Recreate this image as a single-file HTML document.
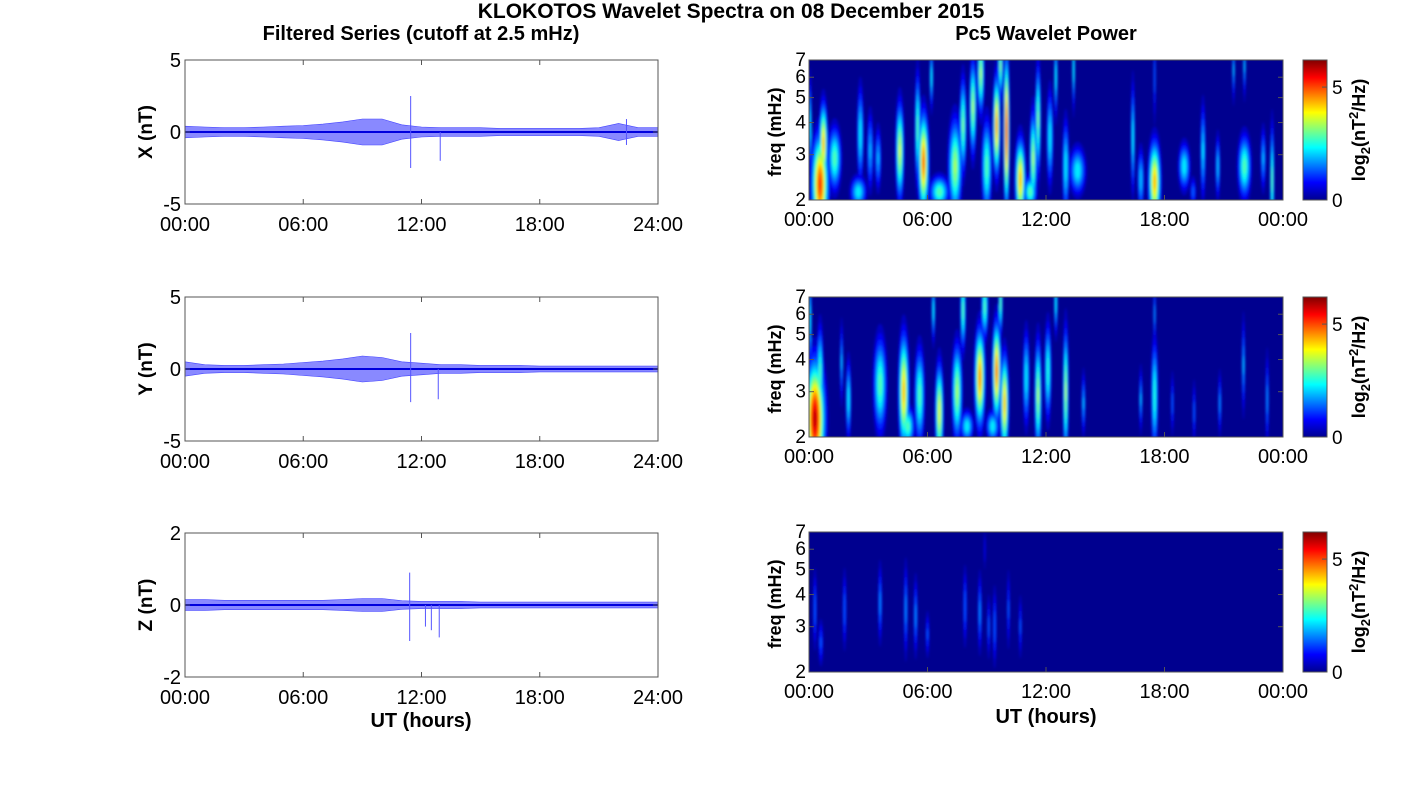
<!DOCTYPE html>
<html><head><meta charset="utf-8">
<style>
body{margin:0;background:#fff;}
svg{display:block;font-family:"Liberation Sans",sans-serif;}
</style></head>
<body>
<svg id="fig" width="1418" height="788" viewBox="0 0 1418 788" xmlns="http://www.w3.org/2000/svg">
<defs>
<linearGradient id="jetgrad" x1="0" y1="1" x2="0" y2="0">
<stop offset="0" stop-color="#00008f"/><stop offset="0.125" stop-color="#0000ff"/>
<stop offset="0.375" stop-color="#00ffff"/><stop offset="0.625" stop-color="#ffff00"/>
<stop offset="0.875" stop-color="#ff0000"/><stop offset="1" stop-color="#800000"/>
</linearGradient>
<filter id="soft" x="-5%" y="-5%" width="110%" height="110%"><feGaussianBlur stdDeviation="1.2"/></filter>
<clipPath id="c0"><rect x="809" y="60" width="474" height="140"/></clipPath>
<clipPath id="c1"><rect x="809" y="297" width="474" height="140"/></clipPath>
<clipPath id="c2"><rect x="809" y="532" width="474" height="140"/></clipPath>
</defs>
<text x="731" y="18" font-size="21" font-weight="bold" text-anchor="middle">KLOKOTOS Wavelet Spectra on 08 December 2015</text>
<text x="421" y="40" font-size="20" font-weight="bold" text-anchor="middle">Filtered Series (cutoff at 2.5 mHz)</text>
<text x="1046" y="40" font-size="20" font-weight="bold" text-anchor="middle">Pc5 Wavelet Power</text>
</svg>
<script>
// ---- data ----
const hours = [0,1,2,3,4,5,6,7,8,9,10,11,12,13,14,15,16,17,18,19,20,21,22,23,24];
const ampX = [0.4,0.35,0.3,0.3,0.35,0.4,0.45,0.55,0.7,0.9,0.9,0.5,0.35,0.3,0.3,0.3,0.25,0.25,0.25,0.25,0.25,0.3,0.6,0.3,0.3];
const ampY = [0.5,0.3,0.25,0.25,0.3,0.35,0.45,0.55,0.7,0.9,0.8,0.5,0.4,0.3,0.3,0.25,0.25,0.25,0.2,0.2,0.2,0.2,0.2,0.2,0.2];
const ampZ = [0.15,0.15,0.13,0.13,0.13,0.13,0.13,0.13,0.15,0.18,0.18,0.12,0.1,0.1,0.1,0.08,0.08,0.08,0.08,0.08,0.08,0.08,0.08,0.08,0.08];
const spikesX = [[11.45,2.5,-2.5],[12.95,0,-2.0],[22.4,0.9,-0.9]];
const spikesY = [[11.45,2.5,-2.3],[12.85,0,-2.1]];
const spikesZ = [[11.4,0.9,-1.0],[12.9,0,-0.9],[12.2,0,-0.6],[12.5,0,-0.7]];
const timeTicks = ["00:00","06:00","12:00","18:00","24:00"];
const specTicks = ["00:00","06:00","12:00","18:00","00:00"];
const freqTicks = [2,3,4,5,6,7];
// blobs: [hour, freq mHz, peak log2 power, half-width hours, half-height log-frac]
const blobsX = [[0.56,2.3,5.3,0.25,0.3],[0.73,3.3,4.5,0.12,0.25],[1.3,2.9,3,0.2,0.2],[0.05,3.9,2.5,0.05,0.3],[2.6,3.6,2.5,0.1,0.3],[2.5,2.15,2.5,0.25,0.1],[3.1,3.1,2,0.1,0.25],[3.5,2.9,2,0.1,0.2],[4.6,3.1,3.8,0.12,0.3],[5.8,2.8,5,0.15,0.3],[5.5,3.8,3,0.08,0.35],[6.2,6,2.5,0.05,0.2],[6.6,2.15,3,0.3,0.1],[7.4,2.7,3.5,0.2,0.3],[7.8,3.9,3.2,0.1,0.3],[8.3,4.6,3.5,0.1,0.3],[8.7,6.2,3.5,0.1,0.25],[9.0,2.7,3,0.15,0.3],[9.5,3.9,4.8,0.1,0.3],[10.0,3.7,5.6,0.08,0.45],[9.7,6.6,3.2,0.07,0.2],[10.7,2.4,4.5,0.15,0.25],[11.35,2.9,3.5,0.1,0.3],[11.6,4.1,3.2,0.08,0.35],[11.2,2.15,3,0.2,0.1],[12.2,3.5,2.5,0.1,0.3],[12.5,6,2.5,0.05,0.25],[13.0,2.7,2.5,0.1,0.3],[13.6,2.6,2.5,0.25,0.15],[13.4,6.4,2.5,0.04,0.25],[16.4,3.5,2.5,0.06,0.35],[17.5,2.35,4.5,0.18,0.25],[16.8,2.4,2.2,0.1,0.2],[17.5,6,1.5,0.04,0.3],[19.0,2.7,2.5,0.18,0.15],[19.95,3.1,2.3,0.08,0.3],[20.7,2.7,2.2,0.07,0.2],[22.05,2.7,3,0.2,0.2],[21.5,6.4,2,0.04,0.2],[23.0,2.9,2,0.08,0.2],[23.45,2.4,3,0.06,0.35],[19.45,2.15,1.5,0.1,0.1],[22.05,6.6,2,0.04,0.2]];
const blobsY = [[0.3,2.35,6,0.3,0.35],[0.56,3.5,3,0.1,0.3],[0.05,5.7,2.5,0.05,0.3],[2.0,2.8,2.5,0.08,0.25],[3.6,3.2,3,0.2,0.3],[4.8,3.0,4.5,0.15,0.35],[5.0,2.2,3,0.2,0.12],[5.6,2.9,3,0.15,0.3],[6.6,2.5,4,0.12,0.3],[6.3,6.2,2.5,0.05,0.2],[7.5,3.0,3.5,0.15,0.3],[7.8,6.2,3,0.08,0.25],[8.65,3.4,4.8,0.15,0.3],[8.9,6.4,3,0.1,0.2],[9.5,3.6,5,0.12,0.3],[9.9,2.7,4.5,0.12,0.3],[9.7,6.6,3,0.06,0.2],[11.0,3.4,2.5,0.1,0.3],[11.6,2.9,3.5,0.1,0.35],[12.1,3.6,2.8,0.1,0.3],[12.5,6.6,2.5,0.05,0.2],[13.0,3,3.5,0.08,0.4],[13.9,2.7,2,0.06,0.2],[16.8,2.8,2,0.05,0.2],[17.5,2.9,2.8,0.1,0.35],[17.5,6,1.8,0.04,0.2],[18.4,2.7,1.5,0.05,0.2],[19.5,2.5,1.5,0.05,0.2],[20.8,2.7,1.8,0.05,0.2],[22.0,3.8,2,0.05,0.3],[23.2,2.8,1.8,0.05,0.3],[1.65,3.9,2,0.05,0.25],[8.0,2.2,2.5,0.2,0.1],[9.3,2.2,2.5,0.2,0.1]];
const blobsZ = [[0.3,3.5,1.6,0.06,0.25],[0.6,2.6,1.4,0.08,0.15],[1.8,3.5,1.6,0.06,0.25],[3.6,3.7,1.8,0.06,0.25],[4.9,3.5,1.8,0.06,0.3],[5.4,3.3,1.8,0.06,0.25],[6.0,2.8,1.4,0.06,0.15],[7.9,3.6,1.6,0.06,0.25],[8.65,3.4,1.8,0.06,0.25],[9.4,3.0,1.6,0.06,0.25],[10.1,3.5,1.4,0.05,0.25],[10.7,3.0,1.4,0.05,0.2],[8.9,6.0,1.0,0.03,0.15],[9.1,3.0,1.5,0.05,0.2]];

// ---- helpers ----
const NS="http://www.w3.org/2000/svg";
const svg=document.getElementById('fig');
function mk(tag,attrs,parent){const e=document.createElementNS(NS,tag);for(const k in attrs)e.setAttribute(k,attrs[k]);(parent||svg).appendChild(e);return e;}
function jet(v){v=Math.max(0,Math.min(1,v));const c=x=>Math.round(255*Math.max(0,Math.min(1,1.5-Math.abs(x))));return `rgb(${c(4*v-3)},${c(4*v-2)},${c(4*v-1)})`;}
const CMAX=6.2;

const left={x0:185,x1:658,tops:[60,297,533],h:144};
const right={x0:809,x1:1283,tops:[60,297,532],h:140};
const rows=[
 {name:'x',label:'X (nT)',lim:5,amp:ampX,spikes:spikesX,yt:['5','0','-5'],blobs:blobsX},
 {name:'y',label:'Y (nT)',lim:5,amp:ampY,spikes:spikesY,yt:['5','0','-5'],blobs:blobsY},
 {name:'z',label:'Z (nT)',lim:2,amp:ampZ,spikes:spikesZ,yt:['2','0','-2'],blobs:blobsZ}];

rows.forEach((r,i)=>{
  // ---- time series ----
  const top=left.tops[i],h=left.h;
  const xs=t=>left.x0+(left.x1-left.x0)*t/24;
  const ys=v=>top+h/2-v*(h/2)/r.lim;
  mk('rect',{x:left.x0,y:top,width:left.x1-left.x0,height:h,fill:'#fff'});
  let up=[],lo=[];
  hours.forEach((t,k)=>{up.push(xs(t).toFixed(1)+','+ys(r.amp[k]).toFixed(1));lo.unshift(xs(t).toFixed(1)+','+ys(-r.amp[k]).toFixed(1));});
  const band=mk('polygon',{points:up.concat(lo).join(' '),fill:'#3a3aff','fill-opacity':'0.6',stroke:'#4444ff','stroke-width':'0.6'});
  
  
  const mid=mk('polyline',{points:hours.map(t=>xs(t)+','+ys(0)).join(' '),stroke:'#0000dd',fill:'none','stroke-width':'2'});
  
  
  r.spikes.forEach(s=>{
    const sp=mk('line',{x1:xs(s[0]),x2:xs(s[0]),y1:ys(s[1]),y2:ys(s[2]),stroke:'#5555ff','stroke-width':'1'});
    
    
  });
  const ax=mk('rect',{x:left.x0,y:top,width:left.x1-left.x0,height:h,fill:'none',stroke:'#555','stroke-width':'1'});
  
  
  r.yt.forEach((lab,k)=>{
    const yy=top+k*h/2;
    mk('line',{x1:left.x0,x2:left.x0+5,y1:yy,y2:yy,stroke:'#555'});
    mk('line',{x1:left.x1,x2:left.x1-5,y1:yy,y2:yy,stroke:'#555'});
    const tl=mk('text',{x:left.x0-4,y:yy+7,'font-size':'20','text-anchor':'end'});tl.textContent=lab;
    
    
  });
  timeTicks.forEach((lab,k)=>{
    const xx=xs(k*6);
    mk('line',{x1:xx,x2:xx,y1:top+h,y2:top+h-5,stroke:'#555'});
    mk('line',{x1:xx,x2:xx,y1:top,y2:top+5,stroke:'#555'});
    const tl=mk('text',{x:xx,y:top+h+27,'font-size':'20','text-anchor':'middle'});tl.textContent=lab;
    
    
  });
  const yl=mk('text',{x:0,y:0,'font-size':'19','font-weight':'bold','text-anchor':'middle',transform:`translate(152,${top+h/2}) rotate(-90)`});
  yl.textContent=r.label;
  
  

  // ---- spectrogram ----
  const st=right.tops[i],sh=right.h;
  const tx=t=>right.x0+(right.x1-right.x0)*t/24;
  const fy=f=>st+sh-sh*Math.log(f/2)/Math.log(3.5);
  const pxPerH=(right.x1-right.x0)/24;
  mk('rect',{x:right.x0,y:st,width:right.x1-right.x0,height:sh,fill:'#00008f'});
  const g=mk('g',{'clip-path':`url(#c${i})`,filter:'url(#soft)'});
  
  
  for(let L=0.4;L<=CMAX;L+=0.3){
    r.blobs.forEach(b=>{
      if(b[2]<=L)return;
      const rr=Math.sqrt(2*Math.log(b[2]/L));
      const el=mk('ellipse',{cx:tx(b[0]),cy:fy(b[1]),rx:Math.max(0.8,b[3]*1.0*pxPerH*rr),ry:b[4]*0.72*sh*rr,fill:jet(L/CMAX)},g);
      
      
    });
  }
  const sax=mk('rect',{x:right.x0,y:st,width:right.x1-right.x0,height:sh,fill:'none',stroke:'#555'});
  
  
  freqTicks.forEach(f=>{
    const yy=fy(f);
    mk('line',{x1:right.x0,x2:right.x0+5,y1:yy,y2:yy,stroke:'#555'});
    mk('line',{x1:right.x1,x2:right.x1-5,y1:yy,y2:yy,stroke:'#555'});
    const tl=mk('text',{x:right.x0-3,y:yy+6,'font-size':'19','text-anchor':'end'});tl.textContent=f;
    
    
  });
  specTicks.forEach((lab,k)=>{
    const xx=tx(k*6);
    mk('line',{x1:xx,x2:xx,y1:st+sh,y2:st+sh-5,stroke:'#555'});
    const tl=mk('text',{x:xx,y:st+sh+26,'font-size':'20','text-anchor':'middle'});tl.textContent=lab;
    
    
  });
  const fl=mk('text',{x:0,y:0,'font-size':'18','font-weight':'bold','text-anchor':'middle',transform:`translate(781,${st+sh/2+2}) rotate(-90)`});
  fl.textContent='freq (mHz)';
  
  
  // colorbar
  const cb=mk('rect',{x:1303,y:st,width:24,height:sh,fill:'url(#jetgrad)',stroke:'#555'});
  
  
  [0,5].forEach(v=>{
    const yy=st+sh-sh*v/CMAX;
    mk('line',{x1:1327,x2:1322,y1:yy,y2:yy,stroke:'#555'});
    const tl=mk('text',{x:1332,y:yy+7,'font-size':'19'});tl.textContent=v;
    
    
  });
  const cl=mk('text',{x:0,y:0,'font-size':'18','font-weight':'bold','text-anchor':'middle',transform:`translate(1365,${st+sh/2}) rotate(-90)`});
  cl.innerHTML='log<tspan dy="5" font-size="13">2</tspan><tspan dy="-5">(nT</tspan><tspan dy="-7" font-size="13">2</tspan><tspan dy="7">/Hz)</tspan>';
  
  
});
const ul=mk('text',{x:421,y:727,'font-size':'20','font-weight':'bold','text-anchor':'middle'});ul.textContent='UT (hours)';


const ur=mk('text',{x:1046,y:723,'font-size':'20','font-weight':'bold','text-anchor':'middle'});ur.textContent='UT (hours)';


</script>
</body></html>
